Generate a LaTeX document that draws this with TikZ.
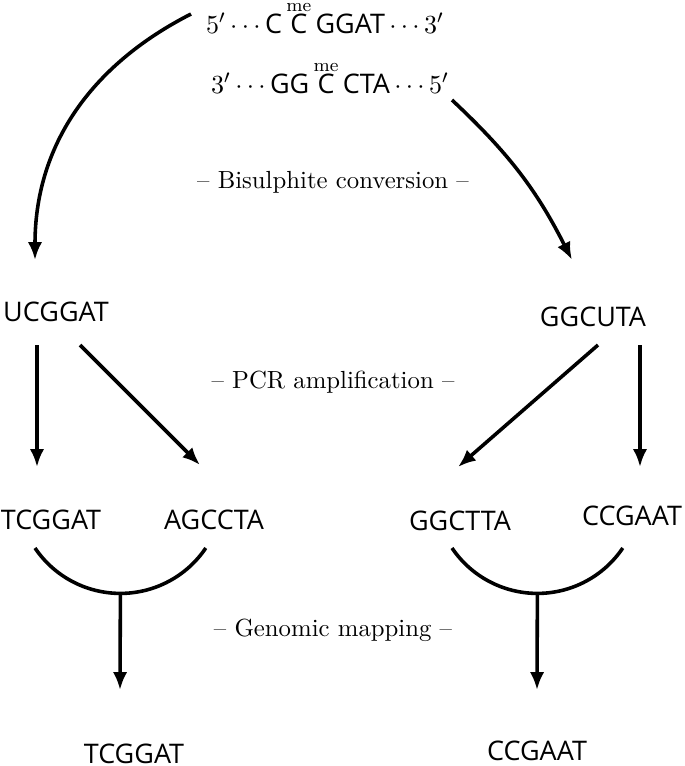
\documentclass[tikz,border=0pt]{standalone}
\usepackage{amsmath}
\usepackage{fontspec}
\usepackage{tikz}
\usetikzlibrary{positioning}
\usetikzlibrary{calc}
\usetikzlibrary{arrows.meta}

\newfontfamily\seqfont[Scale=1.03]{Open Sans}
\newcommand{\nt}[1]{\text{\seqfont #1}}
\newcommand{\methC}{\mathop{\kern0pt\nt{C}}\limits^{\smash{\raisebox{-1.5pt}{$\scriptstyle\mathrm{me}$}}}}

\begin{document}
\begin{tikzpicture}[x=0.42pt,y=-0.42pt,
        seq/.style={font=\fontsize{11}{13}\selectfont\seqfont, anchor=base, inner sep=0pt},
        stage/.style={font=\fontsize{10.4}{12}\selectfont},
        arr/.style={-{Latex[length=7.5pt,width=6pt]}, line width=1.5pt},
        cup/.style={line width=1.5pt}]
        % \draw[help lines] (0,0) grid (685,766);
      \useasboundingbox (0,0) rectangle (685,766);

      \node[seq]                  (top) at (325,33)  {$5'\cdots\nt{C}\methC\nt{GGAT}\cdots3'$};
      \node[seq]                  (bot) at (330,93)  {$3'\cdots\nt{GG}\methC\nt{CTA}\cdots5'$};
      \node[seq]                  (u)   at (56,321)  {UCGGAT};
      \node[seq]                  (g)   at (593,326) {GGCUTA};
      \node[seq]                  (t1)  at (51,529)  {TCGGAT};
      \node[seq]                  (a1)  at (214,529) {AGCCTA};
      \node[seq]                  (g1)  at (460,530) {GGCTTA};
      \node[seq]                  (c1)  at (632,525) {CCGAAT};
      \node[seq]                  (f1)  at (134,763) {TCGGAT};
      \node[seq]                  (f2)  at (537,760) {CCGAAT};

      \node[stage]                (bis) at (333,182) {-- Bisulphite conversion --};
      \node[stage]                (pcr) at (333,382) {-- PCR amplification --};
      \node[stage]                (gen) at (333,630) {-- Genomic mapping --};

      % bisulphite
      \draw[arr] ($(top.base)+(-134,-19)$) to[out=207, in=90]      ($(u.base)+(-21,-61)$);
      \draw[arr] ($(bot.base)+(122,7)$)    to[bend left=10]        ($(g.base)+(-21,-66)$);

      % PCR
      \draw[arr] ($(u.base)+(-19,24)$) -- ($(t1.base)+(-14,-62)$);
      \draw[arr] ($(u.base)+(24,24)$)  -- ($(a1.base)+(-14,-64)$);
      \draw[arr] ($(g.base)+(5,19)$)   -- ($(g1.base)+(-2,-63)$);
      \draw[arr] ($(g.base)+(47,19)$)  -- ($(c1.base)+(8,-58)$);

      % mapping
      \draw[cup] ($(t1.base)+(-16,19)$) arc[start angle=146, end angle=90, radius=103] coordinate (m1)
                                        arc[start angle=90, end angle=34, radius=103];
      \draw[cup] ($(g1.base)+(-8,18)$)  arc[start angle=146, end angle=90, radius=103] coordinate (m2)
                                        arc[start angle=90, end angle=34, radius=103];
      \draw[arr] (m1) -- ($(f1.base)+(-14,-73)$);
      \draw[arr] (m2) -- ($(f2.base)+(0,-70)$);
\end{tikzpicture}
\end{document}
